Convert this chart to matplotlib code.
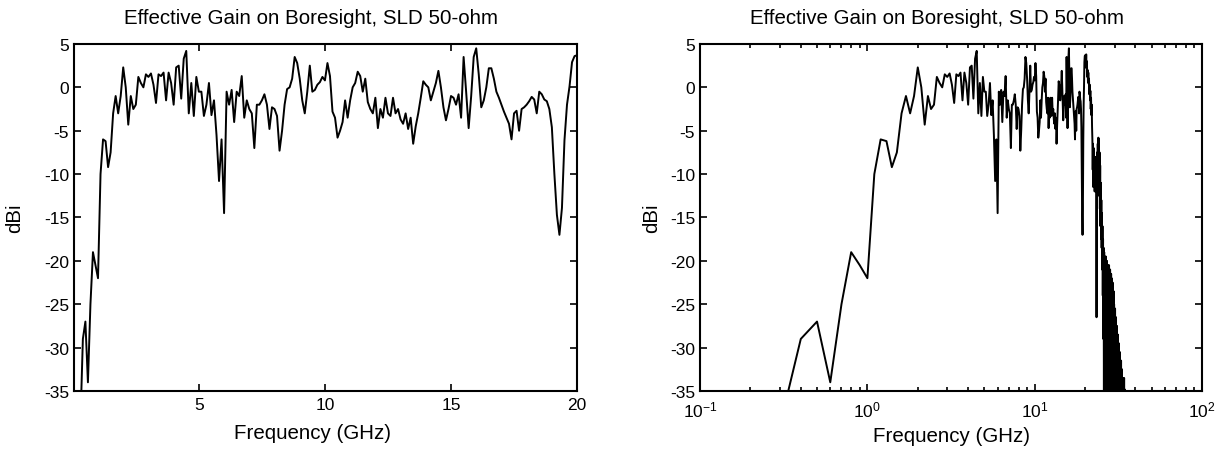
import numpy as np
import matplotlib
matplotlib.use("Agg")
import matplotlib.pyplot as plt
from matplotlib.ticker import LogLocator, NullFormatter

plt.rcParams['font.family'] = ['Liberation Sans', 'DejaVu Sans']
plt.rcParams['mathtext.fontset'] = 'custom'
plt.rcParams['mathtext.rm'] = 'Liberation Sans'
plt.rcParams['mathtext.it'] = 'Liberation Sans'
plt.rcParams['axes.unicode_minus'] = False

# frequency grid, 0.1 GHz steps from 0.1 to 35 GHz
freq = np.round(np.arange(1, 351) * 0.1, 1)

# effective gain (dBi), 10 samples per row (1 GHz)
gain = np.array([
    -50, -45, -39, -29, -27, -34, -25, -19, -20.5, -22,            # 0.1-1.0
    -10, -6, -6.2, -9.2, -7.5, -3, -1, -3, -1, 2.3,                # 1.1-2.0
    0, -4.3, -1, -2.5, -2, 1.2, 0.5, 0, 1.5, 1.2,                  # 2.1-3.0
    1.6, 0.3, -1.8, 1.5, 1.3, 1.7, -1.5, 1.7, 0.5, -2,             # 3.1-4.0
    2.3, 2.5, -1.3, 3.3, 4.2, -3, 0.5, -3.3, 1.2, -0.5,            # 4.1-5.0
    -0.5, -3.3, -2, 0.5, -3.2, -1.5, -5.5, -10.8, -6, -14.5,       # 5.1-6.0
    -0.5, -2, -0.3, -4, -0.5, -1, 1.3, -3.5, -1.5, -2.5,           # 6.1-7.0
    -3, -7, -2, -2, -1.5, -0.8, -2, -4.8, -2.3, -2.5,              # 7.1-8.0
    -3.3, -7.3, -5, -2, -0.2, 0, 1, 3.5, 2.8, 1,                   # 8.1-9.0
    -1.5, -3, -0.5, 2.5, -0.5, -0.3, 0.3, 0.6, 1.2, 0.8,           # 9.1-10.0
    2.8, 1.3, -2.8, -3.5, -5.8, -5, -4, -1.5, -3.5, -1.5,          # 10.1-11.0
    0, 0.5, 1.8, 1.3, -0.5, 1, -1.7, -2.5, -3, -1.2,               # 11.1-12.0
    -4.7, -2.5, -3.5, -1.2, -3, -3.3, -1.2, -3, -2.5, -3.7,        # 12.1-13.0
    -4.2, -3, -4.8, -3.5, -6.5, -4.5, -3, -1.2, 0.7, 0.3,          # 13.1-14.0
    0, -1.5, -0.5, 0.5, 1.9, 0, -2.3, -3.8, -2.5, -1,              # 14.1-15.0
    -1.2, -2, -0.8, -3.5, 3.5, -0.5, -4.7, -1, 3.5, 4.5,           # 15.1-16.0
    1.5, -2.3, -1.5, 0, 2.2, 2.2, 1, -0.5, -1.2, -2,               # 16.1-17.0
    -2.8, -3.5, -4.2, -6, -3, -2.7, -5, -2.5, -2.3, -2,            # 17.1-18.0
    -1.6, -1.1, -1.4, -3, -0.5, -0.8, -1.4, -1.6, -2.5, -4.6,      # 18.1-19.0
    -10, -14.7, -17, -13.9, -6.1, -2, 0.1, 2.9, 3.6, 3.7,          # 19.1-20.0
    3.5, 2.6, 3.8, 2.2, 3.0, 1.2, 2.0, 0.6, 1.7, 0.4,              # 20.1-21.0
    1.0, -0.8, 0.3, -1.5, -0.4, -2.5, -1.2, -3.2, -2.0, -4.5,      # 21.1-22.0
    -6, -9.5, -6.5, -11.5, -7, -10.5, -8, -12, -8.5, -11,          # 22.1-23.0
    -9, -12, -8, -26.5, -10, -7.5, -12.5, -6.5, -10.5, -5.8,       # 23.1-24.0
    -11, -6, -12.5, -7.5, -14, -9, -16, -11, -17.5, -13,           # 24.1-25.0
    -18.5, -14.5, -21, -16, -24, -17.5, -29, -18.5, -36, -19,      # 25.1-26.0
    -38, -19.5, -33, -20.5, -40, -19.5, -30, -21, -38, -20,        # 26.1-27.0
    -36, -21.5, -40, -20.5, -31, -22, -39, -20.5, -34, -21.5,      # 27.1-28.0
    -40, -21, -37, -22.5, -41, -21.5, -33, -22, -39, -23,          # 28.1-29.0
    -36, -22.5, -41, -24, -38, -23.5, -40, -25, -37, -26,          # 29.1-30.0
    -41, -25.5, -39, -27, -42, -26.5, -38, -28, -41, -27.5,        # 30.1-31.0
    -40, -29, -42, -28.5, -39, -30, -42, -29.5, -41, -31,          # 31.1-32.0
    -42, -30.5, -40, -31.5, -43, -32, -41, -31.5, -43, -33,        # 32.1-33.0
    -42, -32.5, -44, -34, -42, -33.5, -44, -34.5, -43, -34,        # 33.1-34.0
    -44, -33.5, -45, -34.8, -44, -35.5, -46, -36, -45, -47,        # 34.1-35.0
])

title = 'Effective Gain on Boresight, SLD 50-ohm'
yticks = [-35, -30, -25, -20, -15, -10, -5, 0, 5]

fig = plt.figure(figsize=(12.26, 4.56), dpi=100)
ax1 = fig.add_axes([0.0604, 0.1404, 0.4103, 0.761])
ax2 = fig.add_axes([0.5710, 0.1404, 0.4095, 0.761])

# linear axis
ax1.plot(freq, gain, color='black', lw=1.4)
ax1.set_xlim(0.05, 20)
ax1.set_xticks([5, 10, 15, 20])

# log axis
ax2.plot(freq, gain, color='black', lw=1.4)
ax2.set_xscale('log')
ax2.set_xlim(0.1, 100)
ax2.xaxis.set_major_locator(LogLocator(base=10, numticks=10))
ax2.xaxis.set_minor_locator(LogLocator(base=10, subs=np.arange(2, 10), numticks=20))
ax2.xaxis.set_minor_formatter(NullFormatter())

for ax in (ax1, ax2):
    ax.set_ylim(-35, 5)
    ax.set_yticks(yticks)
    ax.set_title(title, fontsize=14.8, pad=15, x=0.472)
    ax.tick_params(which='both', direction='in', top=True, right=True,
                   labelsize=12.5, width=1.2)
    ax.tick_params(which='major', length=5)
    ax.tick_params(which='minor', length=3)
    for s in ax.spines.values():
        s.set_linewidth(1.5)

ax1.set_ylabel('dBi', fontsize=14.8, labelpad=14)
ax2.set_ylabel('dBi', fontsize=14.8, labelpad=6)
ax1.tick_params(axis='x', pad=4.5)
ax2.tick_params(axis='x', pad=6)
ax1.set_xlabel('Frequency (GHz)', fontsize=14.8, labelpad=8)
ax1.xaxis.set_label_coords(0.475, -0.092)
ax2.set_xlabel('Frequency (GHz)', fontsize=14.8, labelpad=5)

fig.savefig('out.png', dpi=100)
